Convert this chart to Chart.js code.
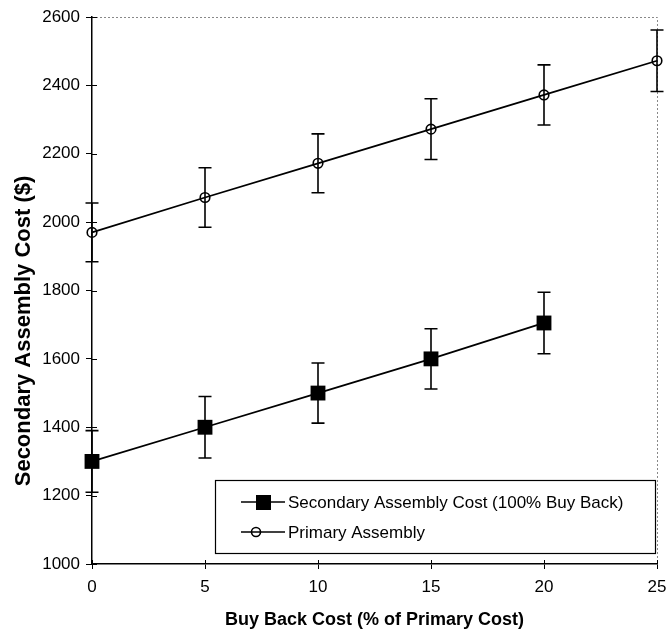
<!DOCTYPE html>
<html>
<head>
<meta charset="utf-8">
<script src="https://cdn.jsdelivr.net/npm/chart.js@4/dist/chart.umd.min.js"></script>
<style>
html,body{margin:0;padding:0;background:#fff;}
#wrap{width:668px;height:631px;position:relative;}
</style>
</head>
<body>
<div id="wrap"><canvas id="c" width="668" height="631"></canvas></div>
<script>
const xValues = [0, 5, 10, 15, 20, 25];
const primaryValues = [1970, 2072, 2172, 2272, 2372, 2472];
const primaryErrors = [86, 87, 86, 89, 88, 90];
const secondaryX = [0, 5, 10, 15, 20];
const secondaryValues = [1300, 1400, 1500, 1600, 1705];
const secondaryErrors = [90, 90, 88, 88, 90];
const yTicks = [1000, 1200, 1400, 1600, 1800, 2000, 2200, 2400, 2600];
const xTicks = [0, 5, 10, 15, 20, 25];
const seriesLabels = ['Secondary Assembly Cost (100% Buy Back)', 'Primary Assembly'];
const axisTitles = {x: 'Buy Back Cost (% of Primary Cost)', y: 'Secondary Assembly Cost ($)'};

const FONT = "'Liberation Sans', Arial, sans-serif";

const secData = secondaryX.map((x, i) => ({x: x, y: secondaryValues[i], e: secondaryErrors[i]}));
const priData = xValues.map((x, i) => ({x: x, y: primaryValues[i], e: primaryErrors[i]}));

const errorBars = {
  id: 'errorBars',
  afterDatasetsDraw(chart) {
    const ctx = chart.ctx, xs = chart.scales.x, ys = chart.scales.y;
    ctx.save();
    ctx.strokeStyle = '#000';
    ctx.lineWidth = 1.6;
    chart.data.datasets.forEach(ds => {
      ds.data.forEach(p => {
        const px = xs.getPixelForValue(p.x);
        const top = ys.getPixelForValue(p.y + p.e);
        const bot = ys.getPixelForValue(p.y - p.e);
        ctx.beginPath();
        ctx.moveTo(px, top); ctx.lineTo(px, bot);
        ctx.moveTo(px - 6.5, top); ctx.lineTo(px + 6.5, top);
        ctx.moveTo(px - 6.5, bot); ctx.lineTo(px + 6.5, bot);
        ctx.stroke();
      });
    });
    ctx.restore();
  }
};

const frameAndLegend = {
  id: 'frameAndLegend',
  beforeDatasetsDraw(chart) {
    const ctx = chart.ctx, a = chart.chartArea, xs = chart.scales.x, ys = chart.scales.y;
    ctx.save();
    ctx.strokeStyle = '#888';
    ctx.lineWidth = 1;
    ctx.setLineDash([2, 2]);
    ctx.beginPath();
    ctx.moveTo(a.left, a.top + 0.5); ctx.lineTo(a.right + 0.5, a.top + 0.5);
    ctx.lineTo(a.right + 0.5, a.bottom);
    ctx.stroke();
    ctx.setLineDash([]);
    ctx.strokeStyle = '#000';
    ctx.beginPath();
    ys.ticks.forEach(t => {
      const py = Math.round(ys.getPixelForValue(t.value)) + 0.5;
      ctx.moveTo(a.left, py); ctx.lineTo(a.left + 5, py);
    });
    xs.ticks.forEach(t => {
      const px = Math.round(xs.getPixelForValue(t.value)) + 0.5;
      ctx.moveTo(px, a.bottom); ctx.lineTo(px, a.bottom - 4);
    });
    ctx.stroke();
    // y axis title
    ctx.fillStyle = '#000';
    ctx.font = 'bold 22px ' + FONT;
    ctx.textAlign = 'center';
    ctx.textBaseline = 'middle';
    ctx.translate(24, 331);
    ctx.rotate(-Math.PI / 2);
    ctx.fillText(axisTitles.y, 0, 0);
    ctx.restore();
  },
  afterDraw(chart) {
    const ctx = chart.ctx, a = chart.chartArea;
    const bx = a.left + 123, by = a.bottom - 84, bw = a.right - 2 - bx, bh = 73;
    ctx.save();
    ctx.fillStyle = '#fff';
    ctx.fillRect(bx, by, bw, bh);
    ctx.strokeStyle = '#000';
    ctx.lineWidth = 1.2;
    ctx.strokeRect(bx + 0.5, by + 0.5, bw, bh);
    const rows = [by + 22, by + 52];
    ctx.font = '17px ' + FONT;
    ctx.textBaseline = 'middle';
    ctx.fillStyle = '#000';
    rows.forEach((ry, i) => {
      ctx.lineWidth = 1.6;
      ctx.beginPath();
      ctx.moveTo(bx + 26, ry); ctx.lineTo(bx + 70, ry);
      ctx.stroke();
      if (i === 0) {
        ctx.fillRect(bx + 41, ry - 7, 15, 15);
      } else {
        ctx.beginPath();
        ctx.arc(bx + 41, ry, 4.5, 0, Math.PI * 2);
        ctx.stroke();
      }
      ctx.fillText(seriesLabels[i], bx + 73, ry + 1);
    });
    ctx.restore();
  }
};

new Chart(document.getElementById('c'), {
  type: 'line',
  data: {
    datasets: [
      {
        label: seriesLabels[0],
        data: secData,
        borderColor: '#000',
        backgroundColor: '#000',
        borderWidth: 1.8,
        pointStyle: 'rect',
        pointRadius: 10.5,
        pointHoverRadius: 10.5,
        pointBorderWidth: 0,
        clip: false
      },
      {
        label: seriesLabels[1],
        data: priData,
        borderColor: '#000',
        backgroundColor: 'rgba(0,0,0,0)',
        borderWidth: 1.8,
        pointStyle: 'circle',
        pointRadius: 4.8,
        pointHoverRadius: 4.8,
        pointBorderWidth: 1.6,
        pointBorderColor: '#000',
        pointBackgroundColor: 'rgba(0,0,0,0)',
        clip: false
      }
    ]
  },
  options: {
    responsive: false,
    animation: false,
    events: [],
    layout: {padding: {left: 0, top: 17, right: 11, bottom: 0}},
    plugins: {legend: {display: false}, tooltip: {enabled: false}},
    scales: {
      x: {
        type: 'linear',
        min: 0, max: 25,
        afterBuildTicks: s => { s.ticks = xTicks.map(v => ({value: v})); },
        afterFit: s => { s.height = 67; s.paddingRight = 0; s.paddingLeft = 0; },
        grid: {drawOnChartArea: false, color: '#000', tickLength: 5, tickWidth: 1},
        border: {color: '#000', width: 1.5},
        ticks: {color: '#000', font: {family: FONT, size: 17}, padding: 8, maxRotation: 0, callback: v => String(v)},
        title: {display: true, text: axisTitles.x, color: '#000', font: {family: FONT, size: 18, weight: 'bold'}, padding: {top: 0, bottom: 0}}
      },
      y: {
        type: 'linear',
        min: 1000, max: 2600,
        afterBuildTicks: s => { s.ticks = yTicks.map(v => ({value: v})); },
        afterFit: s => { s.width = 92; s.paddingTop = 0; s.paddingBottom = 0; },
        grid: {drawOnChartArea: false, color: '#000', tickLength: 6, tickWidth: 1},
        border: {color: '#000', width: 1.5},
        ticks: {color: '#000', font: {family: FONT, size: 17}, padding: 6, callback: v => String(v)},
        title: {display: false}
      }
    }
  },
  plugins: [frameAndLegend, errorBars]
});
</script>
</body>
</html>
